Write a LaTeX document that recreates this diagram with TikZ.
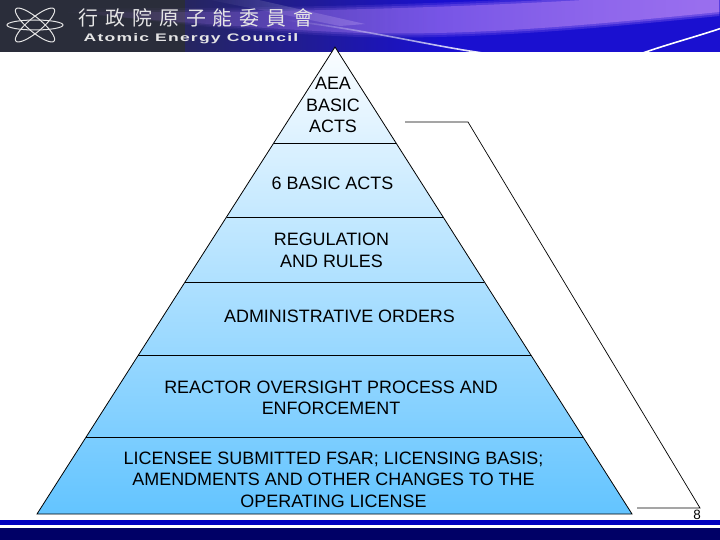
\documentclass[tikz,border=0pt]{standalone}
\usepackage{fontspec}
\setmainfont{Liberation Sans}
\newfontfamily\cjkfont{Noto Sans CJK TC}
\newfontfamily\widefont[FakeStretch=1.6,LetterSpace=11]{Liberation Sans}
\usetikzlibrary{calc}
\usetikzlibrary{fadings}
\definecolor{headdark}{HTML}{2A2D3A}
\definecolor{headblue}{HTML}{1A10D0}
\definecolor{swoosh}{HTML}{A678F2}
\definecolor{pyrtop}{HTML}{FBFDFF}
\definecolor{pyrbottom}{HTML}{63C4FF}
\definecolor{bandblue}{HTML}{0000BE}
\definecolor{bandnavy}{HTML}{000066}
\tikzfading[name=swooshfade, left color=transparent!100, middle color=transparent!10, right color=transparent!0]
\tikzfading[name=streakfade, left color=transparent!100, right color=transparent!0]
\begin{document}
\begin{tikzpicture}[x=1bp, y=-1bp]
    \tikzstyle{layerline} = [line width=0.8bp, color=black]
    \tikzstyle{bracket} = [line width=0.7bp, color=black]
    \tikzstyle{label} = [align=center, font=\fontsize{18}{21.5}\selectfont, inner sep=0pt]
    \tikzstyle{orbit} = [draw=white!90!black, line width=1bp]
    \useasboundingbox (0, 0) rectangle (720, 540);
    % header
    \fill[headblue] (0, 0) rectangle (720, 52);
    \shade[left color=headdark, right color=headblue] (100, 0) rectangle (440, 52);
    \fill[headdark] (0, 0) rectangle (185, 52);
    \begin{scope}
        \clip (0, 0) rectangle (720, 52);
        \fill[white, opacity=0.3, path fading=streakfade] (200, -2) -- (250, -2) -- (365, 24) -- (340, 26) -- cycle;
        \foreach \grow/\op in {4/0.3, 2/0.45, 0/0.8} {
            \fill[swoosh, opacity=\op, path fading=swooshfade] (60, 12-\grow) .. controls (300, 14-\grow) and (560, 5-\grow) .. (720, -10-\grow)
                -- (720, 12+\grow) .. controls (600, 24+\grow) and (480, 36+\grow) .. (360, 33+\grow)
                .. controls (280, 30+\grow) and (150, 20+\grow) .. cycle;
        }
        \draw[white, line width=1.6bp, path fading=streakfade] (285, 20) .. controls (380, 32) and (430, 46) .. (490, 54);
        \draw[white, line width=1.6bp] (640, 54) .. controls (665, 45) and (695, 37) .. (722, 28);
    \end{scope}
    % logo
    \draw[orbit] (35, 25) ellipse[x radius=28, y radius=5];
    \draw[orbit, rotate around={40:(35, 25)}] (35, 25) ellipse[x radius=25, y radius=7];
    \draw[orbit, rotate around={-40:(35, 25)}] (35, 25) ellipse[x radius=25, y radius=7];
    \node[text=white!90!black, font=\cjkfont\fontsize{20}{20}\selectfont, inner sep=0pt] (title) at (196, 18) {行\hspace{7pt}政\hspace{7pt}院\hspace{7pt}原\hspace{7pt}子\hspace{7pt}能\hspace{7pt}委\hspace{7pt}員\hspace{7pt}會};
    \node[text=white!90!black, font=\widefont\bfseries\fontsize{11}{11}\selectfont, inner sep=0pt] (subtitle) at (191, 39) {Atomic Energy Council};
    % bottom bands
    \fill[bandblue] (0, 520) rectangle (720, 525);
    \fill[bandnavy] (0, 528) rectangle (720, 540);
    % pyramid
    \coordinate (apex) at (335, 47);
    \coordinate (baseleft) at (37, 514);
    \coordinate (baseright) at (632, 514);
    \shade[top color=pyrtop, bottom color=pyrbottom] (apex) -- (baseright) -- (baseleft) -- cycle;
    \draw[layerline] (apex) -- (baseright) -- (baseleft) -- cycle;
    \foreach \cut/\yfrac in {a/0.2056, b/0.364, c/0.503, d/0.6595, e/0.835} {
        \coordinate (left\cut) at ($(apex)!\yfrac!(baseleft)$);
        \coordinate (right\cut) at ($(apex)!\yfrac!(baseright)$);
        \draw[layerline] (left\cut) -- (right\cut);
    }
    \node[label] (acts) at (333, 105) {AEA\\BASIC\\ACTS};
    \node[label] (basic) at (332.5, 183) {6 BASIC ACTS};
    \node[label] (regulation) at (331.5, 250.5) {REGULATION\\AND RULES};
    \node[label] (orders) at (339.5, 316) {ADMINISTRATIVE ORDERS};
    \node[label] (oversight) at (331, 398) {REACTOR OVERSIGHT PROCESS AND\\ENFORCEMENT};
    \node[label] (licensee) at (333.5, 479.5) {LICENSEE SUBMITTED FSAR; LICENSING BASIS;\\AMENDMENTS AND OTHER CHANGES TO THE\\OPERATING LICENSE};
    % bracket
    \coordinate (bracketa) at (405, 122);
    \coordinate (bracketb) at (468, 122);
    \coordinate (bracketc) at (700, 508);
    \coordinate (bracketd) at (637, 508);
    \draw[bracket] (bracketa) -- (bracketb) -- (bracketc) -- (bracketd);
    \node[font=\fontsize{13.5}{13.5}\selectfont, inner sep=0pt] (pagenum) at (697, 514.5) {8};
\end{tikzpicture}
\end{document}
